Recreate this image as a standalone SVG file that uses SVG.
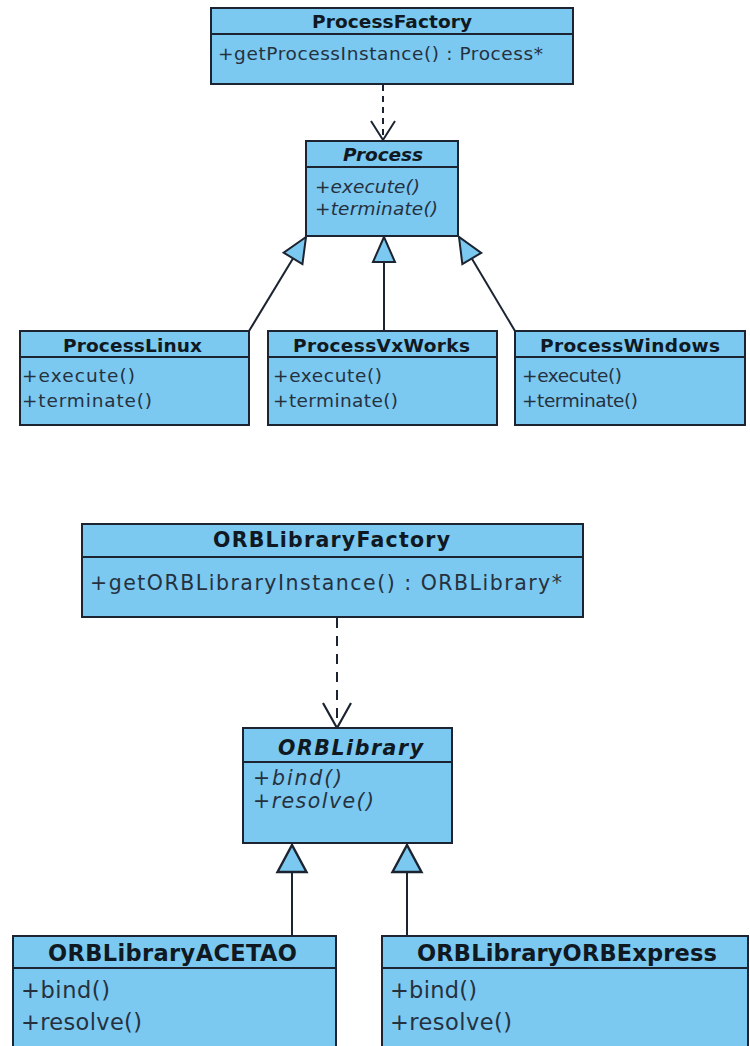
<svg xmlns="http://www.w3.org/2000/svg" width="750" height="1046" viewBox="0 0 750 1046">
<style>
.box{fill:#7bc8f0;stroke:#1b2430;stroke-width:2}
.div{stroke:#1b2430;stroke-width:2}
.t{font-family:"DejaVu Sans",Verdana,sans-serif;font-weight:bold;fill:#101822}
.m{font-family:"DejaVu Sans",Verdana,sans-serif;fill:#26313e}
.i{font-style:italic}
.s17{font-size:18.5px}.s19{font-size:20.5px}.s21{font-size:22.5px}
.conn{stroke:#1b2430;stroke-width:2;fill:none}
.dash1{stroke-dasharray:6 5}
.dash2{stroke-dasharray:10 8}
</style>
<defs>
<marker id="gen1" markerUnits="userSpaceOnUse" orient="auto" refX="25" refY="0" markerWidth="30" markerHeight="30" overflow="visible">
<path d="M25,0 L0,-11 L0,11 Z" fill="#7bc8f0" stroke="#1b2430" stroke-width="2"/>
</marker>
<marker id="gen2" markerUnits="userSpaceOnUse" orient="auto" refX="27" refY="0" markerWidth="30" markerHeight="30" overflow="visible">
<path d="M27,0 L0,-14.5 L0,14.5 Z" fill="#7bc8f0" stroke="#1b2430" stroke-width="2.4"/>
</marker>
<marker id="dep1" markerUnits="userSpaceOnUse" orient="auto" refX="19" refY="0" markerWidth="30" markerHeight="30" overflow="visible">
<path d="M0,-12 L19,0 L0,12" fill="none" stroke="#1b2430" stroke-width="2"/>
</marker>
<marker id="dep2" markerUnits="userSpaceOnUse" orient="auto" refX="25" refY="0" markerWidth="30" markerHeight="30" overflow="visible">
<path d="M0,-14 L25,0 L0,14" fill="none" stroke="#1b2430" stroke-width="2.2"/>
</marker>
</defs>
<rect width="750" height="1046" fill="#ffffff"/>

<g id="connectors">
<line class="conn dash1" x1="383" y1="85" x2="383" y2="140" marker-end="url(#dep1)"/>
<line class="conn" x1="249" y1="331" x2="306" y2="237" marker-end="url(#gen1)"/>
<line class="conn" x1="384" y1="331" x2="384" y2="237" marker-end="url(#gen1)"/>
<line class="conn" x1="515" y1="331" x2="459" y2="237" marker-end="url(#gen1)"/>
<line class="conn dash2" x1="337" y1="618" x2="337" y2="728" marker-end="url(#dep2)"/>
<line class="conn" x1="292" y1="936" x2="292" y2="845" stroke-width="2.4" marker-end="url(#gen2)"/>
<line class="conn" x1="407" y1="936" x2="407" y2="845" stroke-width="2.4" marker-end="url(#gen2)"/>
</g>

<g id="ProcessFactory">
<rect class="box" x="211" y="8" width="362" height="76"/>
<line class="div" x1="211" y1="34" x2="573" y2="34"/>
<text class="t s17" x="312" y="28" textLength="160">ProcessFactory</text>
<text class="m s17" x="218" y="60" textLength="325">+getProcessInstance() : Process*</text>
</g>

<g id="Process">
<rect class="box" x="306" y="141" width="152" height="95"/>
<line class="div" x1="306" y1="167" x2="458" y2="167"/>
<text class="t i s17" x="343" y="161" textLength="80">Process</text>
<text class="m i s17" x="315" y="193" textLength="105">+execute()</text>
<text class="m i s17" x="315" y="215" textLength="123">+terminate()</text>
</g>

<g id="ProcessLinux">
<rect class="box" x="20" y="331" width="229" height="94"/>
<line class="div" x1="20" y1="357" x2="249" y2="357"/>
<text class="t s17" x="63" y="352" textLength="139">ProcessLinux</text>
<text class="m s17" x="22" y="382" textLength="113">+execute()</text>
<text class="m s17" x="22" y="407" textLength="130">+terminate()</text>
</g>

<g id="ProcessVxWorks">
<rect class="box" x="268" y="331" width="229" height="94"/>
<line class="div" x1="268" y1="357" x2="497" y2="357"/>
<text class="t s17" x="293" y="352" textLength="177">ProcessVxWorks</text>
<text class="m s17" x="273" y="382" textLength="109">+execute()</text>
<text class="m s17" x="273" y="407" textLength="125">+terminate()</text>
</g>

<g id="ProcessWindows">
<rect class="box" x="515" y="331" width="230" height="94"/>
<line class="div" x1="515" y1="357" x2="745" y2="357"/>
<text class="t s17" x="540" y="352" textLength="180">ProcessWindows</text>
<text class="m s17" x="522" y="382" textLength="100">+execute()</text>
<text class="m s17" x="522" y="407" textLength="116">+terminate()</text>
</g>

<g id="ORBLibraryFactory">
<rect class="box" x="82" y="524" width="501" height="93"/>
<line class="div" x1="82" y1="557" x2="583" y2="557"/>
<text class="t s19" x="213" y="547" textLength="237">ORBLibraryFactory</text>
<text class="m s19" x="90" y="590" textLength="472">+getORBLibraryInstance() : ORBLibrary*</text>
</g>

<g id="ORBLibrary">
<rect class="box" x="243" y="728" width="209" height="115"/>
<line class="div" x1="243" y1="762" x2="452" y2="762"/>
<text class="t i s19" x="278" y="755" textLength="145">ORBLibrary</text>
<text class="m i s19" x="253" y="785" textLength="89">+bind()</text>
<text class="m i s19" x="253" y="808" textLength="121">+resolve()</text>
</g>

<g id="ORBLibraryACETAO">
<rect class="box" x="13" y="936" width="323" height="125"/>
<line class="div" x1="13" y1="968" x2="336" y2="968"/>
<text class="t s21" x="48" y="961" textLength="249">ORBLibraryACETAO</text>
<text class="m s21" x="21" y="998" textLength="89">+bind()</text>
<text class="m s21" x="21" y="1030" textLength="121">+resolve()</text>
</g>

<g id="ORBLibraryORBExpress">
<rect class="box" x="382" y="936" width="366" height="125"/>
<line class="div" x1="382" y1="968" x2="748" y2="968"/>
<text class="t s21" x="417" y="961" textLength="300">ORBLibraryORBExpress</text>
<text class="m s21" x="390" y="998" textLength="87">+bind()</text>
<text class="m s21" x="390" y="1030" textLength="122">+resolve()</text>
</g>
</svg>
